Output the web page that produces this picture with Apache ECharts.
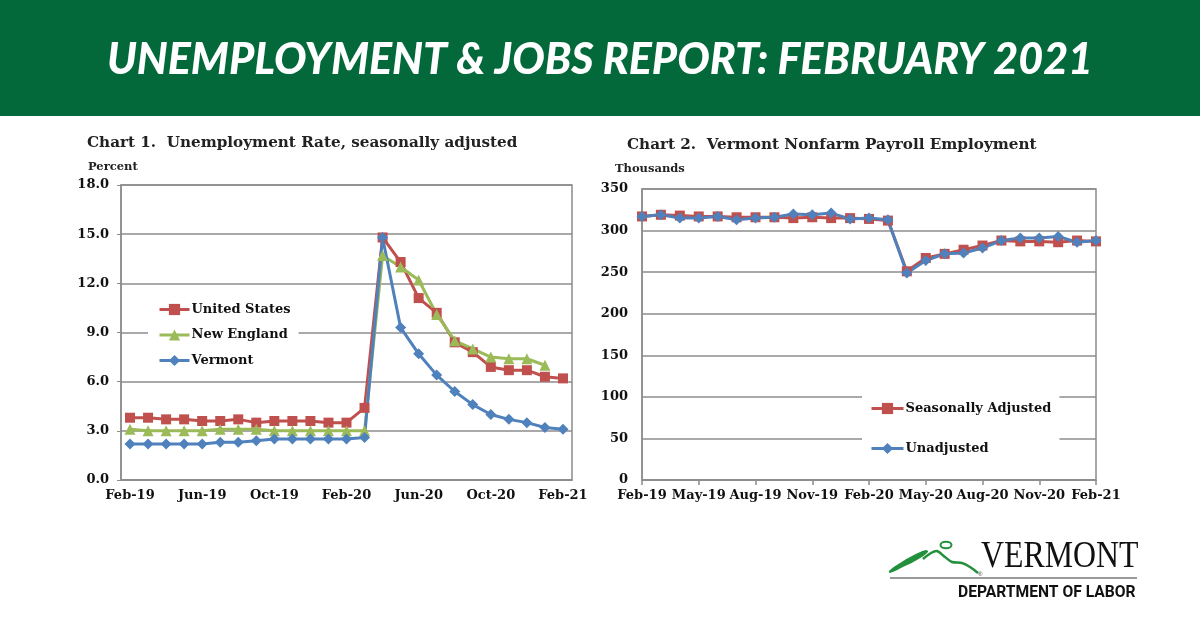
<!DOCTYPE html>
<html>
<head>
<meta charset="utf-8">
<script src="https://cdn.jsdelivr.net/npm/echarts@6/dist/echarts.min.js"></script>
<style>
html,body{margin:0;padding:0;background:#fff;}
#c{width:1200px;height:628px;}
</style>
</head>
<body>
<div id="c"></div>
<script>
// ---- Chart 1 data ----
var months1 = ["Feb-19","Mar-19","Apr-19","May-19","Jun-19","Jul-19","Aug-19","Sep-19","Oct-19","Nov-19","Dec-19","Jan-20","Feb-20","Mar-20","Apr-20","May-20","Jun-20","Jul-20","Aug-20","Sep-20","Oct-20","Nov-20","Dec-20","Jan-21","Feb-21"];
var usRate = [3.8,3.8,3.7,3.7,3.6,3.6,3.7,3.5,3.6,3.6,3.6,3.5,3.5,4.4,14.8,13.3,11.1,10.2,8.4,7.8,6.9,6.7,6.7,6.3,6.2];
var neRate = [3.1,3.0,3.0,3.0,3.0,3.1,3.1,3.1,3.0,3.0,3.0,3.0,3.0,3.0,13.7,13.0,12.2,10.1,8.5,8.0,7.5,7.4,7.4,7.0,null];
var vtRate = [2.2,2.2,2.2,2.2,2.2,2.3,2.3,2.4,2.5,2.5,2.5,2.5,2.5,2.6,14.8,9.3,7.7,6.4,5.4,4.6,4.0,3.7,3.5,3.2,3.1];
var yTicks1 = [0,3,6,9,12,15,18];

// ---- Chart 2 data ----
var months2 = ["Feb-19","Mar-19","Apr-19","May-19","Jun-19","Jul-19","Aug-19","Sep-19","Oct-19","Nov-19","Dec-19","Jan-20","Feb-20","Mar-20","Apr-20","May-20","Jun-20","Jul-20","Aug-20","Sep-20","Oct-20","Nov-20","Dec-20","Jan-21","Feb-21"];
var saJobs = [317,319,318,317,317,316,316,316,315,316,315,315,314,312,251,267,272,277,282,288,287,287,286,288,287];
var unJobs = [317,319,315,315,317,313,315,316,320,319,321,314,315,313,249,264,272,273,279,288,291,291,293,286,288];
var yTicks2 = [0,50,100,150,200,250,300,350];

var RED = '#C0504D', GREEN = '#9BBB59', BLUE = '#4F81BD';
var GRID_C = '#8c8c8c';
var SERIF = 'DejaVu Serif';
var LOGO_G = '#23903c';

var chart = echarts.init(document.getElementById('c'));
var axisLbl = {color:'#111', fontFamily:SERIF, fontWeight:'bold', fontSize:13};

chart.setOption({
  animation:false,
  backgroundColor:'#fff',
  title:[
    {text:'Chart 1.  Unemployment Rate, seasonally adjusted', left:87, top:136, padding:0,
     textStyle:{fontFamily:SERIF, fontWeight:'bold', fontSize:15.2, color:'#222'}},
    {text:'Percent', left:88, top:161, padding:0, textStyle:{fontFamily:SERIF, fontWeight:'bold', fontSize:11.5, color:'#222'}},
    {text:'Chart 2.  Vermont Nonfarm Payroll Employment', left:627, top:138, padding:0,
     textStyle:{fontFamily:SERIF, fontWeight:'bold', fontSize:15.2, color:'#222'}},
    {text:'Thousands', left:615, top:163, padding:0, textStyle:{fontFamily:SERIF, fontWeight:'bold', fontSize:11.5, color:'#222'}}
  ],
  grid:[
    {left:121, top:185, width:451, height:295, show:true, borderColor:GRID_C, borderWidth:1.5, backgroundColor:'transparent'},
    {left:642, top:189, width:454, height:291, show:true, borderColor:GRID_C, borderWidth:1.5, backgroundColor:'transparent'}
  ],
  xAxis:[
    {type:'category', gridIndex:0, data:months1, boundaryGap:true,
     axisLine:{lineStyle:{color:GRID_C, width:1.5}},
     axisTick:{interval:3, length:5, lineStyle:{color:GRID_C, width:1.5}},
     axisLabel:Object.assign({interval:3, margin:9}, axisLbl)},
    {type:'category', gridIndex:1, data:months2, boundaryGap:false,
     axisLine:{lineStyle:{color:GRID_C, width:1.5}},
     axisTick:{interval:2, length:5, lineStyle:{color:GRID_C, width:1.5}},
     axisLabel:Object.assign({interval:2, margin:9}, axisLbl)}
  ],
  yAxis:[
    {type:'value', gridIndex:0, min:yTicks1[0], max:yTicks1[yTicks1.length-1], interval:3,
     axisLine:{show:true, lineStyle:{color:GRID_C, width:1.5}},
     axisTick:{show:true, length:4, lineStyle:{color:GRID_C}},
     splitLine:{lineStyle:{color:GRID_C, width:1.5}},
     axisLabel:Object.assign({margin:12, formatter:function(v){return v.toFixed(1);}}, axisLbl)},
    {type:'value', gridIndex:1, min:yTicks2[0], max:yTicks2[yTicks2.length-1], interval:50,
     axisLine:{show:true, lineStyle:{color:GRID_C, width:1.5}},
     axisTick:{show:false},
     splitLine:{lineStyle:{color:GRID_C, width:1.5}},
     axisLabel:Object.assign({margin:14}, axisLbl)}
  ],
  legend:[
    {data:['United States','New England','Vermont'], orient:'vertical', left:148, top:299,
     itemWidth:30, itemHeight:14, itemGap:12.5, padding:[4,8,4,10], backgroundColor:'#fff',
     lineStyle:{width:3},
     textStyle:{fontFamily:SERIF, fontWeight:'bold', fontSize:13, color:'#111', padding:[0,0,0,-3]}},
    {data:['Seasonally Adjusted','Unadjusted'], orient:'vertical', left:862, top:392,
     itemWidth:32, itemHeight:14, itemGap:27, padding:[10,8,10,8], backgroundColor:'#fff',
     lineStyle:{width:3},
     textStyle:{fontFamily:SERIF, fontWeight:'bold', fontSize:13, color:'#111', padding:[0,0,0,-3]}}
  ],
  series:[
    {name:'United States', type:'line', xAxisIndex:0, yAxisIndex:0, data:usRate,
     symbol:'rect', symbolSize:10, lineStyle:{color:RED, width:3}, itemStyle:{color:RED}},
    {name:'New England', type:'line', xAxisIndex:0, yAxisIndex:0, data:neRate,
     symbol:'triangle', symbolSize:11, lineStyle:{color:GREEN, width:3}, itemStyle:{color:GREEN}},
    {name:'Vermont', type:'line', xAxisIndex:0, yAxisIndex:0, data:vtRate,
     symbol:'diamond', symbolSize:11, lineStyle:{color:BLUE, width:3}, itemStyle:{color:BLUE}},
    {name:'Seasonally Adjusted', type:'line', xAxisIndex:1, yAxisIndex:1, data:saJobs,
     symbol:'rect', symbolSize:10, lineStyle:{color:RED, width:3}, itemStyle:{color:RED}},
    {name:'Unadjusted', type:'line', xAxisIndex:1, yAxisIndex:1, data:unJobs,
     symbol:'diamond', symbolSize:11, lineStyle:{color:BLUE, width:3}, itemStyle:{color:BLUE}}
  ],
  graphic:[
    {type:'rect', left:0, top:0, shape:{width:1200, height:116}, style:{fill:'#04693a'}, z:0},
    {type:'text', x:600, y:60, z:10, style:{text:'UNEMPLOYMENT & JOBS REPORT: FEBRUARY 2021',
      fill:'#fff', font:'italic 900 43px Lato', textAlign:'center', textVerticalAlign:'middle'}},
    // logo
    {type:'polygon', z:10, shape:{smooth:0.4, points:[[889,571],[900,563],[912,556],[926,550],[928,552],[917,560],[903,567],[890,573]]},
     style:{fill:LOGO_G}},
    {type:'polyline', z:10, shape:{smooth:0.3, points:[[923,559],[931,553],[937,551],[945,557],[952,562],[962,563],[970,567],[978,573]]},
     style:{fill:'none', stroke:LOGO_G, lineWidth:2.5}},
    {type:'ellipse', z:10, shape:{cx:946, cy:545, rx:5.5, ry:3.2}, style:{fill:'none', stroke:LOGO_G, lineWidth:2}},
    {type:'text', z:10, x:978, y:571, style:{text:'®', fill:'#333', font:'6px sans-serif'}},
    {type:'text', z:10, x:981, y:557, scaleX:0.86, style:{text:'VERMONT', fill:'#111',
      font:'37px "Liberation Serif"', textVerticalAlign:'middle'}},
    {type:'rect', z:10, left:890, top:577, shape:{width:247, height:2}, style:{fill:'#9a9a9a'}},
    {type:'text', z:10, x:958, y:593, scaleX:0.92, style:{text:'DEPARTMENT OF LABOR', fill:'#111',
      font:'bold 17px Roboto', textVerticalAlign:'middle'}}
  ]
});
</script>
</body>
</html>
